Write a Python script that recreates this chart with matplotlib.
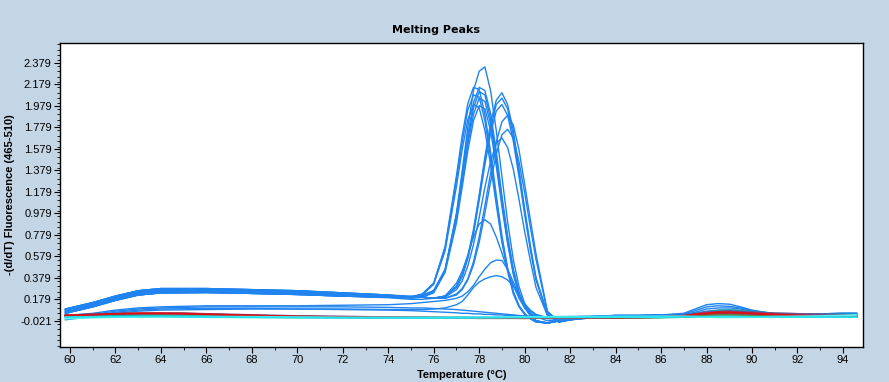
import matplotlib
matplotlib.use("Agg")
import matplotlib.pyplot as plt
from matplotlib.ticker import FixedLocator, MultipleLocator

plt.rcParams["font.family"] = ["Liberation Sans", "DejaVu Sans"]

# temperature grid shared by the blue sample curves
temp = [59.8, 61, 62, 63, 64, 66, 68, 70, 72, 74,
        75, 75.5, 76, 76.5, 77, 77.25, 77.5, 77.75, 78, 78.25, 78.5, 78.75,
        79, 79.25, 79.5, 79.75, 80, 80.25, 80.5, 81, 81.5, 82,
        83, 84, 85, 86, 87, 87.5, 88, 88.5, 89, 89.5, 90, 91, 92, 93, 94, 94.6]

# left group, peak ~78.1 C
left_1 = [0.07, 0.13, 0.19, 0.24, 0.26, 0.26, 0.25, 0.24, 0.225, 0.21,
          0.20, 0.21, 0.25, 0.45, 0.98, 1.37, 1.78, 2.12, 2.30, 2.34, 2.12, 1.75,
          1.32, 0.90, 0.55, 0.30, 0.14, 0.05, -0.02, -0.04, -0.02, 0.0,
          0.015, 0.025, 0.025, 0.025, 0.03, 0.03, 0.035, 0.035, 0.035, 0.035, 0.03, 0.03, 0.03, 0.035, 0.04, 0.04]
left_2 = [0.09, 0.15, 0.21, 0.26, 0.28, 0.28, 0.27, 0.26, 0.24, 0.22,
          0.20, 0.23, 0.33, 0.67, 1.33, 1.70, 2.00, 2.15, 2.13, 1.90, 1.55, 1.15,
          0.77, 0.47, 0.25, 0.12, 0.05, 0.0, -0.03, -0.04, -0.02, 0.0,
          0.01, 0.02, 0.02, 0.02, 0.025, 0.03, 0.03, 0.03, 0.03, 0.03, 0.03, 0.025, 0.025, 0.03, 0.03, 0.03]
left_3 = [0.05, 0.11, 0.17, 0.22, 0.24, 0.245, 0.235, 0.225, 0.21, 0.20,
          0.20, 0.21, 0.26, 0.45, 0.95, 1.30, 1.67, 1.96, 2.11, 2.08, 1.86, 1.51,
          1.11, 0.75, 0.45, 0.24, 0.11, 0.03, -0.02, -0.04, -0.02, 0.0,
          0.015, 0.025, 0.025, 0.03, 0.045, 0.075, 0.11, 0.12, 0.115, 0.1, 0.075, 0.045, 0.035, 0.035, 0.04, 0.04]
left_4 = [0.08, 0.14, 0.20, 0.25, 0.27, 0.27, 0.265, 0.25, 0.235, 0.215,
          0.20, 0.23, 0.33, 0.66, 1.29, 1.64, 1.94, 2.08, 2.06, 1.84, 1.50, 1.11,
          0.74, 0.46, 0.25, 0.12, 0.04, 0.0, -0.03, -0.04, -0.02, 0.0,
          0.015, 0.025, 0.025, 0.025, 0.03, 0.03, 0.035, 0.035, 0.035, 0.035, 0.03, 0.03, 0.03, 0.035, 0.04, 0.04]
left_5 = [0.06, 0.12, 0.18, 0.23, 0.25, 0.25, 0.24, 0.23, 0.215, 0.20,
          0.19, 0.20, 0.24, 0.43, 0.89, 1.22, 1.56, 1.84, 1.98, 1.95, 1.75, 1.42,
          1.04, 0.70, 0.41, 0.22, 0.10, 0.03, -0.02, -0.04, -0.02, 0.0,
          0.02, 0.03, 0.03, 0.035, 0.04, 0.045, 0.05, 0.05, 0.05, 0.045, 0.045, 0.04, 0.04, 0.045, 0.05, 0.05]
left_6 = [0.07, 0.13, 0.19, 0.24, 0.26, 0.26, 0.25, 0.24, 0.225, 0.21,
          0.20, 0.22, 0.32, 0.63, 1.23, 1.57, 1.85, 1.99, 1.96, 1.75, 1.43, 1.06,
          0.71, 0.44, 0.23, 0.11, 0.04, 0.0, -0.03, -0.04, -0.02, 0.0,
          0.01, 0.02, 0.02, 0.02, 0.025, 0.03, 0.03, 0.03, 0.03, 0.03, 0.03, 0.025, 0.025, 0.03, 0.03, 0.03]
left_7 = [0.09, 0.15, 0.21, 0.26, 0.28, 0.28, 0.27, 0.26, 0.24, 0.22,
          0.21, 0.22, 0.26, 0.45, 0.93, 1.27, 1.62, 1.90, 2.05, 2.02, 1.81, 1.47,
          1.08, 0.72, 0.43, 0.23, 0.11, 0.03, -0.02, -0.04, -0.02, 0.0,
          0.015, 0.025, 0.025, 0.025, 0.03, 0.03, 0.035, 0.035, 0.035, 0.035, 0.03, 0.03, 0.03, 0.035, 0.04, 0.04]
left_8 = [0.08, 0.14, 0.20, 0.25, 0.27, 0.27, 0.265, 0.25, 0.235, 0.215,
          0.20, 0.21, 0.26, 0.46, 0.97, 1.33, 1.71, 2.01, 2.15, 2.12, 1.91, 1.56,
          1.14, 0.77, 0.46, 0.25, 0.11, 0.04, -0.02, -0.04, -0.02, 0.0,
          0.02, 0.03, 0.03, 0.035, 0.04, 0.045, 0.05, 0.05, 0.05, 0.045, 0.045, 0.04, 0.04, 0.045, 0.05, 0.05]

# right group, peak ~79.0 C
right_1 = [0.05, 0.11, 0.17, 0.22, 0.24, 0.245, 0.235, 0.225, 0.21, 0.20,
           0.20, 0.20, 0.19, 0.21, 0.30, 0.41, 0.58, 0.83, 1.15, 1.50, 1.82, 2.03,
           2.10, 1.99, 1.75, 1.39, 1.02, 0.68, 0.38, 0.04, -0.03, -0.01,
           0.01, 0.02, 0.02, 0.02, 0.025, 0.03, 0.03, 0.03, 0.03, 0.03, 0.03, 0.025, 0.025, 0.03, 0.03, 0.03]
right_2 = [0.06, 0.12, 0.18, 0.23, 0.25, 0.25, 0.24, 0.23, 0.215, 0.20,
           0.20, 0.20, 0.19, 0.21, 0.30, 0.40, 0.57, 0.81, 1.13, 1.47, 1.77, 1.99,
           2.05, 1.95, 1.70, 1.36, 1.00, 0.66, 0.37, 0.04, -0.03, -0.01,
           0.015, 0.02, 0.025, 0.03, 0.04, 0.06, 0.09, 0.1, 0.1, 0.09, 0.07, 0.045, 0.035, 0.035, 0.04, 0.04]
right_3 = [0.07, 0.13, 0.19, 0.24, 0.26, 0.26, 0.25, 0.24, 0.225, 0.21,
           0.20, 0.20, 0.19, 0.21, 0.29, 0.39, 0.56, 0.79, 1.10, 1.43, 1.72, 1.93,
           1.99, 1.89, 1.65, 1.32, 0.97, 0.64, 0.36, 0.04, -0.03, -0.01,
           0.015, 0.025, 0.025, 0.025, 0.03, 0.03, 0.035, 0.035, 0.035, 0.035, 0.03, 0.03, 0.03, 0.035, 0.04, 0.04]
right_4 = [0.08, 0.14, 0.20, 0.25, 0.27, 0.27, 0.265, 0.25, 0.235, 0.215,
           0.20, 0.20, 0.19, 0.19, 0.23, 0.28, 0.37, 0.53, 0.76, 1.05, 1.35, 1.64,
           1.83, 1.89, 1.80, 1.57, 1.25, 0.92, 0.60, 0.07, -0.03, -0.01,
           0.02, 0.03, 0.03, 0.035, 0.04, 0.045, 0.05, 0.05, 0.05, 0.045, 0.045, 0.04, 0.04, 0.045, 0.05, 0.05]
right_5 = [0.09, 0.15, 0.21, 0.26, 0.28, 0.28, 0.27, 0.26, 0.24, 0.22,
           0.20, 0.20, 0.19, 0.19, 0.22, 0.27, 0.36, 0.50, 0.71, 0.98, 1.27, 1.53,
           1.71, 1.76, 1.68, 1.46, 1.17, 0.85, 0.55, 0.06, -0.03, -0.01,
           0.01, 0.02, 0.02, 0.025, 0.035, 0.05, 0.07, 0.08, 0.08, 0.075, 0.06, 0.04, 0.03, 0.03, 0.035, 0.035]
right_6 = [0.05, 0.11, 0.17, 0.22, 0.24, 0.245, 0.235, 0.225, 0.21, 0.20,
           0.20, 0.20, 0.19, 0.20, 0.27, 0.35, 0.49, 0.69, 0.94, 1.22, 1.46, 1.63,
           1.68, 1.59, 1.39, 1.11, 0.81, 0.54, 0.29, 0.03, -0.03, -0.01,
           0.01, 0.02, 0.02, 0.02, 0.025, 0.03, 0.03, 0.03, 0.03, 0.03, 0.03, 0.025, 0.025, 0.03, 0.03, 0.03]

# weaker samples
mid_1 = [0.06, 0.12, 0.18, 0.22, 0.24, 0.24, 0.235, 0.225, 0.21, 0.195,
         0.18, 0.18, 0.19, 0.21, 0.33, 0.44, 0.59, 0.76, 0.88, 0.92, 0.88, 0.76,
         0.61, 0.45, 0.31, 0.19, 0.10, 0.05, 0.02, -0.02, -0.01, 0.0,
         0.015, 0.025, 0.025, 0.025, 0.03, 0.03, 0.035, 0.035, 0.035, 0.035, 0.03, 0.03, 0.03, 0.035, 0.04, 0.04]
low_1 = [0.03, 0.05, 0.08, 0.10, 0.11, 0.12, 0.12, 0.12, 0.125, 0.13,
         0.14, 0.15, 0.16, 0.17, 0.19, 0.21, 0.25, 0.31, 0.39, 0.46, 0.52, 0.545,
         0.54, 0.46, 0.34, 0.22, 0.13, 0.07, 0.03, 0.0, 0.0, 0.01,
         0.01, 0.02, 0.02, 0.02, 0.025, 0.03, 0.03, 0.03, 0.03, 0.03, 0.03, 0.025, 0.025, 0.03, 0.03, 0.03]
low_2 = [0.0, 0.03, 0.06, 0.08, 0.09, 0.095, 0.095, 0.09, 0.09, 0.085,
         0.085, 0.085, 0.09, 0.10, 0.13, 0.16, 0.22, 0.29, 0.34, 0.37, 0.39, 0.40,
         0.39, 0.36, 0.30, 0.22, 0.14, 0.08, 0.04, 0.01, 0.01, 0.01,
         0.01, 0.02, 0.02, 0.02, 0.025, 0.03, 0.03, 0.03, 0.03, 0.03, 0.03, 0.025, 0.025, 0.03, 0.03, 0.03]
low_3 = [-0.01, 0.02, 0.05, 0.07, 0.08, 0.085, 0.09, 0.09, 0.085, 0.08,
         0.075, 0.07, 0.065, 0.06, 0.055, 0.05, 0.05, 0.045, 0.045, 0.04, 0.04, 0.035,
         0.035, 0.03, 0.03, 0.025, 0.025, 0.02, 0.02, 0.02, 0.02, 0.02,
         0.01, 0.02, 0.02, 0.02, 0.025, 0.03, 0.03, 0.03, 0.03, 0.03, 0.03, 0.025, 0.025, 0.03, 0.03, 0.03]
low_4 = [0.02, 0.04, 0.07, 0.09, 0.10, 0.11, 0.11, 0.11, 0.11, 0.105,
         0.10, 0.10, 0.095, 0.09, 0.085, 0.08, 0.075, 0.07, 0.065, 0.06, 0.055, 0.05,
         0.045, 0.04, 0.035, 0.03, 0.025, 0.02, 0.02, 0.015, 0.015, 0.02,
         0.025, 0.03, 0.03, 0.035, 0.05, 0.09, 0.13, 0.14, 0.135, 0.11, 0.08, 0.045, 0.035, 0.035, 0.04, 0.04]

blue_curves = [left_1, left_2, left_3, left_4, left_5, left_6, left_7, left_8,
               right_1, right_2, right_3, right_4, right_5, right_6,
               mid_1, low_1, low_2, low_3, low_4]

# negative / background samples
temp_base = [59.8, 61, 62, 63, 64, 65, 66, 68, 70, 72, 74, 76, 78, 80, 82,
             84, 86, 87, 87.5, 88, 88.5, 89, 89.5, 90, 91, 92, 93, 94, 94.6]
base_gray = [0.035, 0.035, 0.035, 0.035, 0.035, 0.032, 0.03, 0.025, 0.02, 0.018, 0.015, 0.012, 0.01, 0.01, 0.01,
             0.012, 0.015, 0.02, 0.025, 0.03, 0.035, 0.035, 0.033, 0.03, 0.028, 0.025, 0.022, 0.02, 0.02]
base_green = [0.02, 0.02, 0.022, 0.022, 0.022, 0.02, 0.02, 0.015, 0.012, 0.01, 0.008, 0.006, 0.005, 0.005, 0.006,
              0.008, 0.01, 0.015, 0.02, 0.03, 0.035, 0.035, 0.032, 0.03, 0.025, 0.022, 0.02, 0.02, 0.02]
base_brown = [0.025, 0.03, 0.032, 0.03, 0.03, 0.028, 0.025, 0.022, 0.018, 0.015, 0.012, 0.01, 0.008, 0.008, 0.01,
              0.012, 0.014, 0.018, 0.025, 0.03, 0.032, 0.03, 0.028, 0.025, 0.022, 0.02, 0.02, 0.02, 0.02]
base_teal = [0.025, 0.028, 0.03, 0.03, 0.03, 0.028, 0.025, 0.02, 0.018, 0.015, 0.012, 0.01, 0.01, 0.008, 0.01,
             0.012, 0.015, 0.025, 0.045, 0.06, 0.075, 0.08, 0.075, 0.065, 0.05, 0.045, 0.04, 0.04, 0.04]
base_purple = [0.03, 0.04, 0.045, 0.05, 0.05, 0.05, 0.045, 0.035, 0.025, 0.02, 0.015, 0.01, 0.01, 0.005, 0.01,
               0.015, 0.02, 0.03, 0.045, 0.06, 0.065, 0.07, 0.065, 0.06, 0.05, 0.045, 0.04, 0.035, 0.035]
base_maroon = [0.03, 0.04, 0.045, 0.048, 0.05, 0.05, 0.042, 0.03, 0.02, 0.015, 0.012, 0.01, 0.008, 0.005, 0.008,
               0.01, 0.015, 0.02, 0.035, 0.045, 0.05, 0.05, 0.048, 0.045, 0.035, 0.03, 0.025, 0.02, 0.02]
base_red = [0.03, 0.035, 0.045, 0.05, 0.05, 0.045, 0.04, 0.03, 0.02, 0.015, 0.01, 0.01, 0.005, 0.005, 0.01,
            0.01, 0.015, 0.025, 0.04, 0.05, 0.06, 0.06, 0.055, 0.05, 0.04, 0.03, 0.025, 0.025, 0.025]
base_cyan_1 = [0.015, 0.018, 0.02, 0.02, 0.02, 0.018, 0.015, 0.012, 0.01, 0.008, 0.006, 0.006, 0.008, 0.01, 0.012,
               0.014, 0.015, 0.016, 0.018, 0.02, 0.022, 0.022, 0.02, 0.018, 0.016, 0.015, 0.015, 0.015, 0.015]
base_cyan_2 = [0.0, 0.01, 0.015, 0.018, 0.02, 0.02, 0.02, 0.018, 0.015, 0.012, 0.012, 0.013, 0.014, 0.016, 0.018,
               0.02, 0.022, 0.022, 0.02, 0.015, 0.012, 0.012, 0.013, 0.015, 0.02, 0.022, 0.025, 0.03, 0.035]

base_curves = [(base_gray, "#808080"), (base_green, "#22b86a"), (base_brown, "#8a6a20"),
               (base_teal, "#10a0a0"), (base_purple, "#7a4a90"), (base_maroon, "#a03040"),
               (base_red, "#e01010"), (base_cyan_2, "#5cf2f2"), (base_cyan_1, "#20e4f0")]

y_ticks = [-0.021, 0.179, 0.379, 0.579, 0.779, 0.979, 1.179, 1.379, 1.579, 1.779, 1.979, 2.179, 2.379]
x_ticks = [60, 62, 64, 66, 68, 70, 72, 74, 76, 78, 80, 82, 84, 86, 88, 90, 92, 94]

bg = "#c4d6e6"
fig = plt.figure(figsize=(8.89, 3.82), dpi=100, facecolor=bg)
ax = fig.add_axes([60 / 889, 1 - 347 / 382, 802.7 / 889, 304 / 382])
ax.set_facecolor("white")

for y in blue_curves:
    ax.plot(temp, y, color="#1f83f0", lw=1.0, zorder=2)
for y, c in base_curves:
    ax.plot(temp_base, y, color=c, lw=1.3, zorder=3)

ax.set_xlim(59.56, 94.87)
ax.set_ylim(-0.263, 2.562)
ax.yaxis.set_major_locator(FixedLocator(y_ticks))
ax.set_yticklabels(["%.3f" % v for v in y_ticks])
ax.yaxis.set_minor_locator(MultipleLocator(0.05))
ax.set_xticks(x_ticks)
ax.set_xticklabels([str(v) for v in x_ticks])
ax.xaxis.set_minor_locator(MultipleLocator(1))

ax.tick_params(axis="both", which="major", labelsize=8, length=4, width=0.8, pad=2, colors="black")
ax.tick_params(axis="both", which="minor", length=2, width=0.6)
for s in ax.spines.values():
    s.set_linewidth(1.0)
    s.set_color("black")

ax.set_xlabel("Temperature (°C)", fontsize=8, fontweight="bold", labelpad=3)
ax.set_ylabel("-(d/dT) Fluorescence (465-510)", fontsize=8, fontweight="bold", labelpad=4)
fig.text(436 / 889, 1 - 30 / 382, "Melting Peaks", fontsize=8, fontweight="bold",
         family=["DejaVu Sans"], ha="center", va="center")

fig.savefig("out.png", dpi=100, facecolor=bg)
